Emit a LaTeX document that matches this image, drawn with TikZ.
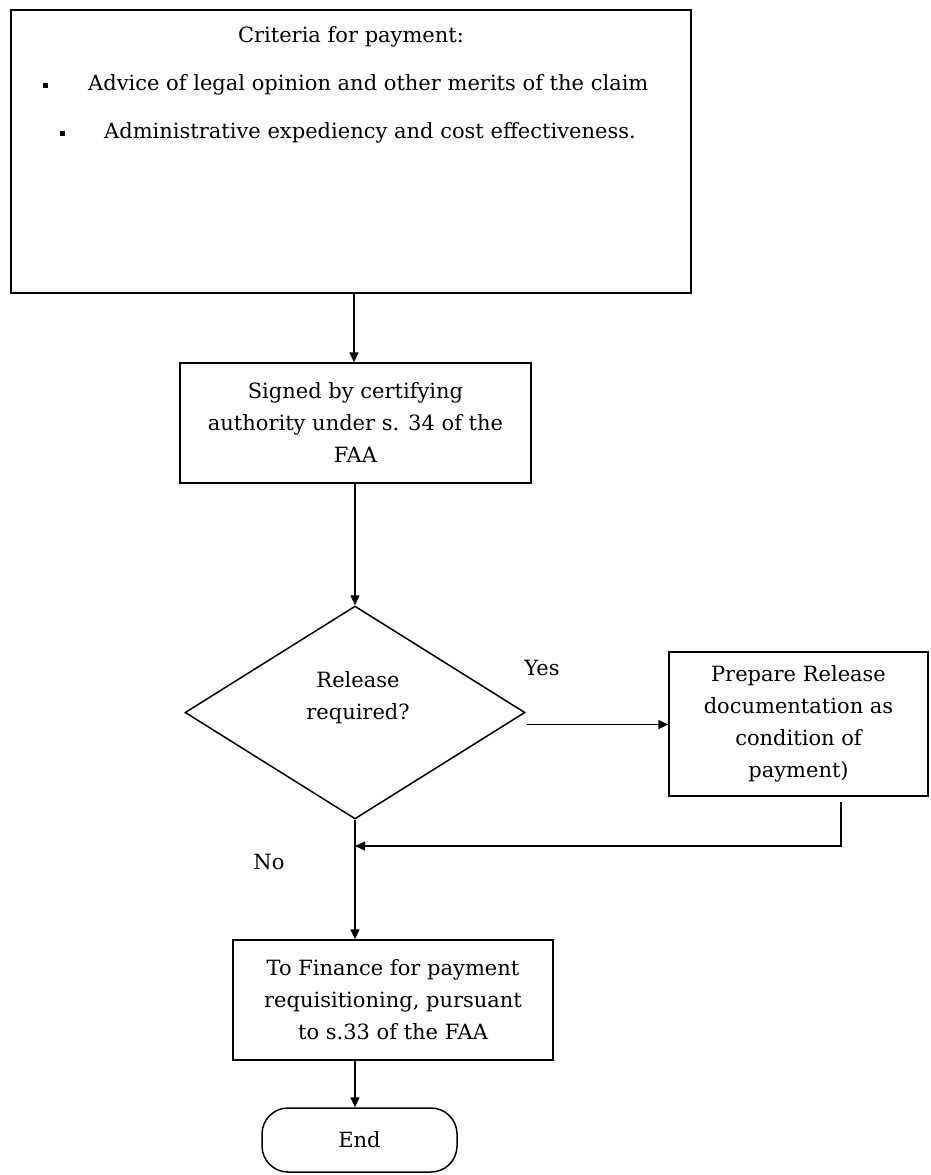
\documentclass[tikz,border=0pt]{standalone}
\usepackage{fontspec}
\setmainfont{DejaVu Serif}
\usetikzlibrary{shapes.geometric,arrows.meta,calc}
\begin{document}
\begin{tikzpicture}[x=1pt,y=-1pt,
  every node/.style={font=\fontsize{21}{32}\selectfont},
  box/.style={draw,line width=1.5pt,inner sep=0pt,align=center},
  bulletmark/.style={fill,minimum size=5pt,inner sep=0pt},
  flow/.style={line width=1.5pt,-{Triangle[length=10pt,width=9pt]}}]
\useasboundingbox (0,0) rectangle (930,1175);

% criteria box with its bullet list
\node[box,minimum width=680pt,minimum height=283pt] (crit) at (351,151.5) {};
\node (crittitle) at (351,37) {Criteria for payment:};
\node[bulletmark] (b1) at (45,85) {};
\node[anchor=west,inner sep=0pt] (t1) at (88,85) {Advice of legal opinion and other merits of the claim};
\node[bulletmark] (b2) at (62,133) {};
\node[anchor=west,inner sep=0pt] (t2) at (104,133) {Administrative expediency and cost effectiveness.};

% main column
\coordinate (col) at (354,0);
\node[box,minimum width=351pt,minimum height=120pt] (signed) at (355.5,423)
  {Signed by certifying\\authority under s. 34 of the\\FAA};
\node[draw,line width=1.5pt,diamond,inner sep=0pt,minimum width=340pt,minimum height=213pt] (dec) at (355,712.5) {};
\node[align=center] (declabel) at (358,698) {Release\\required?};
\node[box,minimum width=259pt,minimum height=144pt] (prep) at (798.5,724)
  {Prepare Release\\documentation as\\condition of\\payment)};
\node[box,minimum width=320pt,minimum height=120pt] (fin) at (393,1000)
  {To Finance for payment\\requisitioning, pursuant\\to s.33 of the FAA};
\node[box,rounded corners=26pt,minimum width=195pt,minimum height=64pt] (end) at (359.5,1140) {End};

% branch labels
\node (yes) at (542,668) {Yes};
\node (no) at (269,862) {No};

% connectors
\draw[flow] (crit.south -| col) -- (signed.north -| col);
\draw[flow] (signed.south -| dec.north) -- (dec.north);
\draw[flow] ([xshift=1pt,yshift=-12pt]dec.east) -- ([yshift=-12pt]dec.east -| prep.west);
\coordinate (ret) at (841,846);
\draw[flow] ([yshift=-5pt]prep.south -| ret) -- (ret) -- (ret -| dec.south);
\draw[flow] (dec.south) -- (fin.north -| dec.south);
\draw[flow] (fin.south -| dec.south) -- (end.north -| dec.south);
\end{tikzpicture}
\end{document}
